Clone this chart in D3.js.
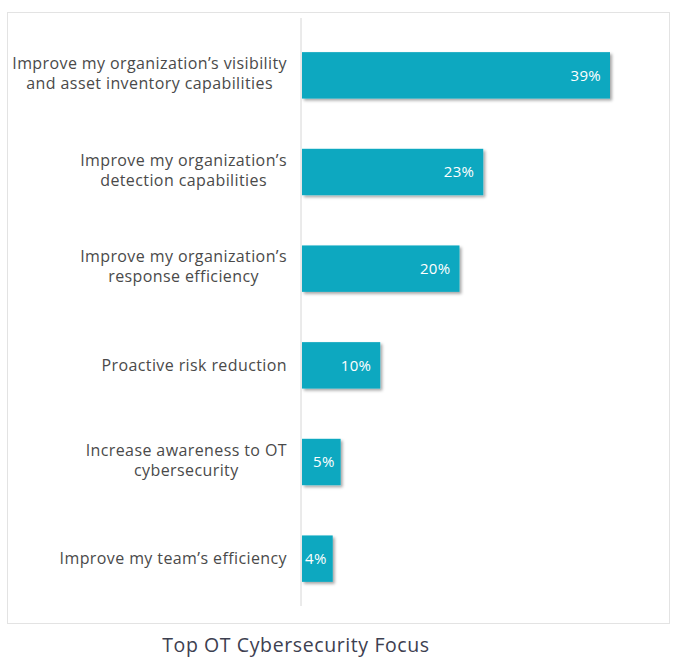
<!DOCTYPE html>
<html>
<head>
<meta charset="utf-8">
<script src="https://cdnjs.cloudflare.com/ajax/libs/d3/7.8.5/d3.min.js"></script>
<style>
  body { margin: 0; background: #fff; }
  svg { display: block; }
</style>
</head>
<body>
<svg id="chart" width="677" height="667"></svg>
<script>
// data
var categories = [
  ["Improve my organization\u2019s visibility", "and asset inventory capabilities"],
  ["Improve my organization\u2019s", "detection capabilities"],
  ["Improve my organization\u2019s", "response efficiency"],
  ["Proactive risk reduction"],
  ["Increase awareness to OT", "cybersecurity"],
  ["Improve my team\u2019s efficiency"]
];
var values = [39, 23, 20, 10, 5, 4];
var valueLabels = ["39%", "23%", "20%", "10%", "5%", "4%"];
var chartTitle = "Top OT Cybersecurity Focus";

var svg = d3.select("#chart");
var font = "'Open Sans', sans-serif";

var defs = svg.append("defs");
var f = defs.append("filter").attr("id", "shadow")
  .attr("x", "-10%").attr("y", "-20%").attr("width", "130%").attr("height", "160%");
f.append("feDropShadow").attr("dx", 2).attr("dy", 2).attr("stdDeviation", 1.5)
  .attr("flood-color", "#000").attr("flood-opacity", 0.35);

// frame
svg.append("rect")
  .attr("x", 7.5).attr("y", 12.5).attr("width", 662).attr("height", 611)
  .attr("fill", "none").attr("stroke", "#e3e3e3");

var idx = d3.range(values.length);

var x = d3.scaleLinear().domain([0, 39]).range([301, 610]);
var y = d3.scaleBand().domain(idx).range([27, 607]).paddingInner(0.52).paddingOuter(0.26);

// axis line
svg.append("line")
  .attr("x1", 301).attr("x2", 301).attr("y1", 18).attr("y2", 606)
  .attr("stroke", "#d6d6d6").attr("stroke-width", 1);

svg.selectAll("rect.bar")
  .data(idx).enter().append("rect")
  .attr("class", "bar")
  .attr("x", x(0) + 1)
  .attr("y", function(i) { return y(i); })
  .attr("width", function(i) { return x(values[i]) - x(0) - 1; })
  .attr("height", y.bandwidth())
  .attr("fill", "#0aa8c0")
  .attr("filter", "url(#shadow)");

svg.selectAll("text.val")
  .data(idx).enter().append("text")
  .attr("class", "val")
  .attr("x", function(i) { return x(values[i]) - (values[i] < 8 ? 6 : 9); })
  .attr("y", function(i) { return y(i) + y.bandwidth() / 2; })
  .attr("dy", "0.35em")
  .attr("text-anchor", "end")
  .attr("fill", "#fff")
  .style("font-family", font)
  .style("font-size", "15px")
  .style("letter-spacing", "0.3px")
  .text(function(i) { return valueLabels[i]; });

// category labels: block right-aligned, lines centred inside block
var labelRight = 287;
var lineH = 20;
idx.forEach(function(i) {
  var lines = categories[i];
  var g = svg.append("g");
  var cy = y(i) + y.bandwidth() / 2 - (lines.length > 1 ? 2 : 0);
  var ts = lines.map(function(t, k) {
    return g.append("text")
      .attr("y", cy + (k - (lines.length - 1) / 2) * lineH)
      .attr("dy", "0.35em")
      .attr("text-anchor", "middle")
      .attr("fill", "#4a4a4a")
      .style("font-family", font)
      .style("font-size", "16px")
      .style("letter-spacing", "0.4px")
      .text(t);
  });
  var w = d3.max(ts, function(t) { return t.node().getComputedTextLength(); });
  ts.forEach(function(t) { t.attr("x", labelRight - w / 2); });
});

svg.append("text")
  .attr("x", 296).attr("y", 645)
  .attr("dy", "0.35em")
  .attr("text-anchor", "middle")
  .attr("fill", "#3d4050")
  .style("font-family", font)
  .style("font-size", "19.5px")
  .style("letter-spacing", "0.6px")
  .text(chartTitle);
</script>
</body>
</html>
